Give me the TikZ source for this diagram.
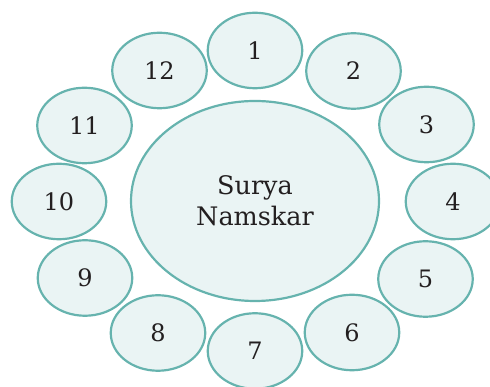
\documentclass[tikz,border=0pt]{standalone}
\usepackage{fontspec}
\setmainfont{DejaVu Serif}
\usetikzlibrary{shapes.geometric}
\definecolor{rim}{HTML}{66B3AE}
\definecolor{pale}{HTML}{EAF4F4}
\definecolor{ink}{HTML}{231F20}
\tikzset{
  pose/.style={ellipse, draw=rim, fill=pale, line width=2.2pt, inner sep=0pt,
    minimum width=94.5pt, minimum height=75.5pt, text=ink,
    font=\fontsize{24}{28}\selectfont},
  hub/.style={ellipse, draw=rim, fill=pale, line width=2.2pt, inner sep=0pt,
    minimum width=248pt, minimum height=200pt, text=ink, align=center,
    font=\fontsize{25.5}{31}\selectfont}
}
\begin{document}
\begin{tikzpicture}[x=1pt,y=1pt]
\useasboundingbox (0,0) rectangle (490,387);
\clip (0,0) rectangle (490,387);
\node[hub] (c) at (255,186) {Surya\\Namskar};
\node[pose] (p1) at (255,336.5) {1};
\node[pose] (p2) at (353.5,316) {2};
\node[pose] (p3) at (426.5,262.5) {3};
\node[pose] (p4) at (453,185.5) {4};
\node[pose] (p5) at (425.5,108) {5};
\node[pose] (p6) at (352,54.5) {6};
\node[pose] (p7) at (255,36) {7};
\node[pose] (p8) at (158,54) {8};
\node[pose] (p9) at (85,109) {9};
\node[pose] (p10) at (59,185.5) {10};
\node[pose] (p11) at (84.5,261.5) {11};
\node[pose] (p12) at (159.5,316.5) {12};
\end{tikzpicture}
\end{document}
